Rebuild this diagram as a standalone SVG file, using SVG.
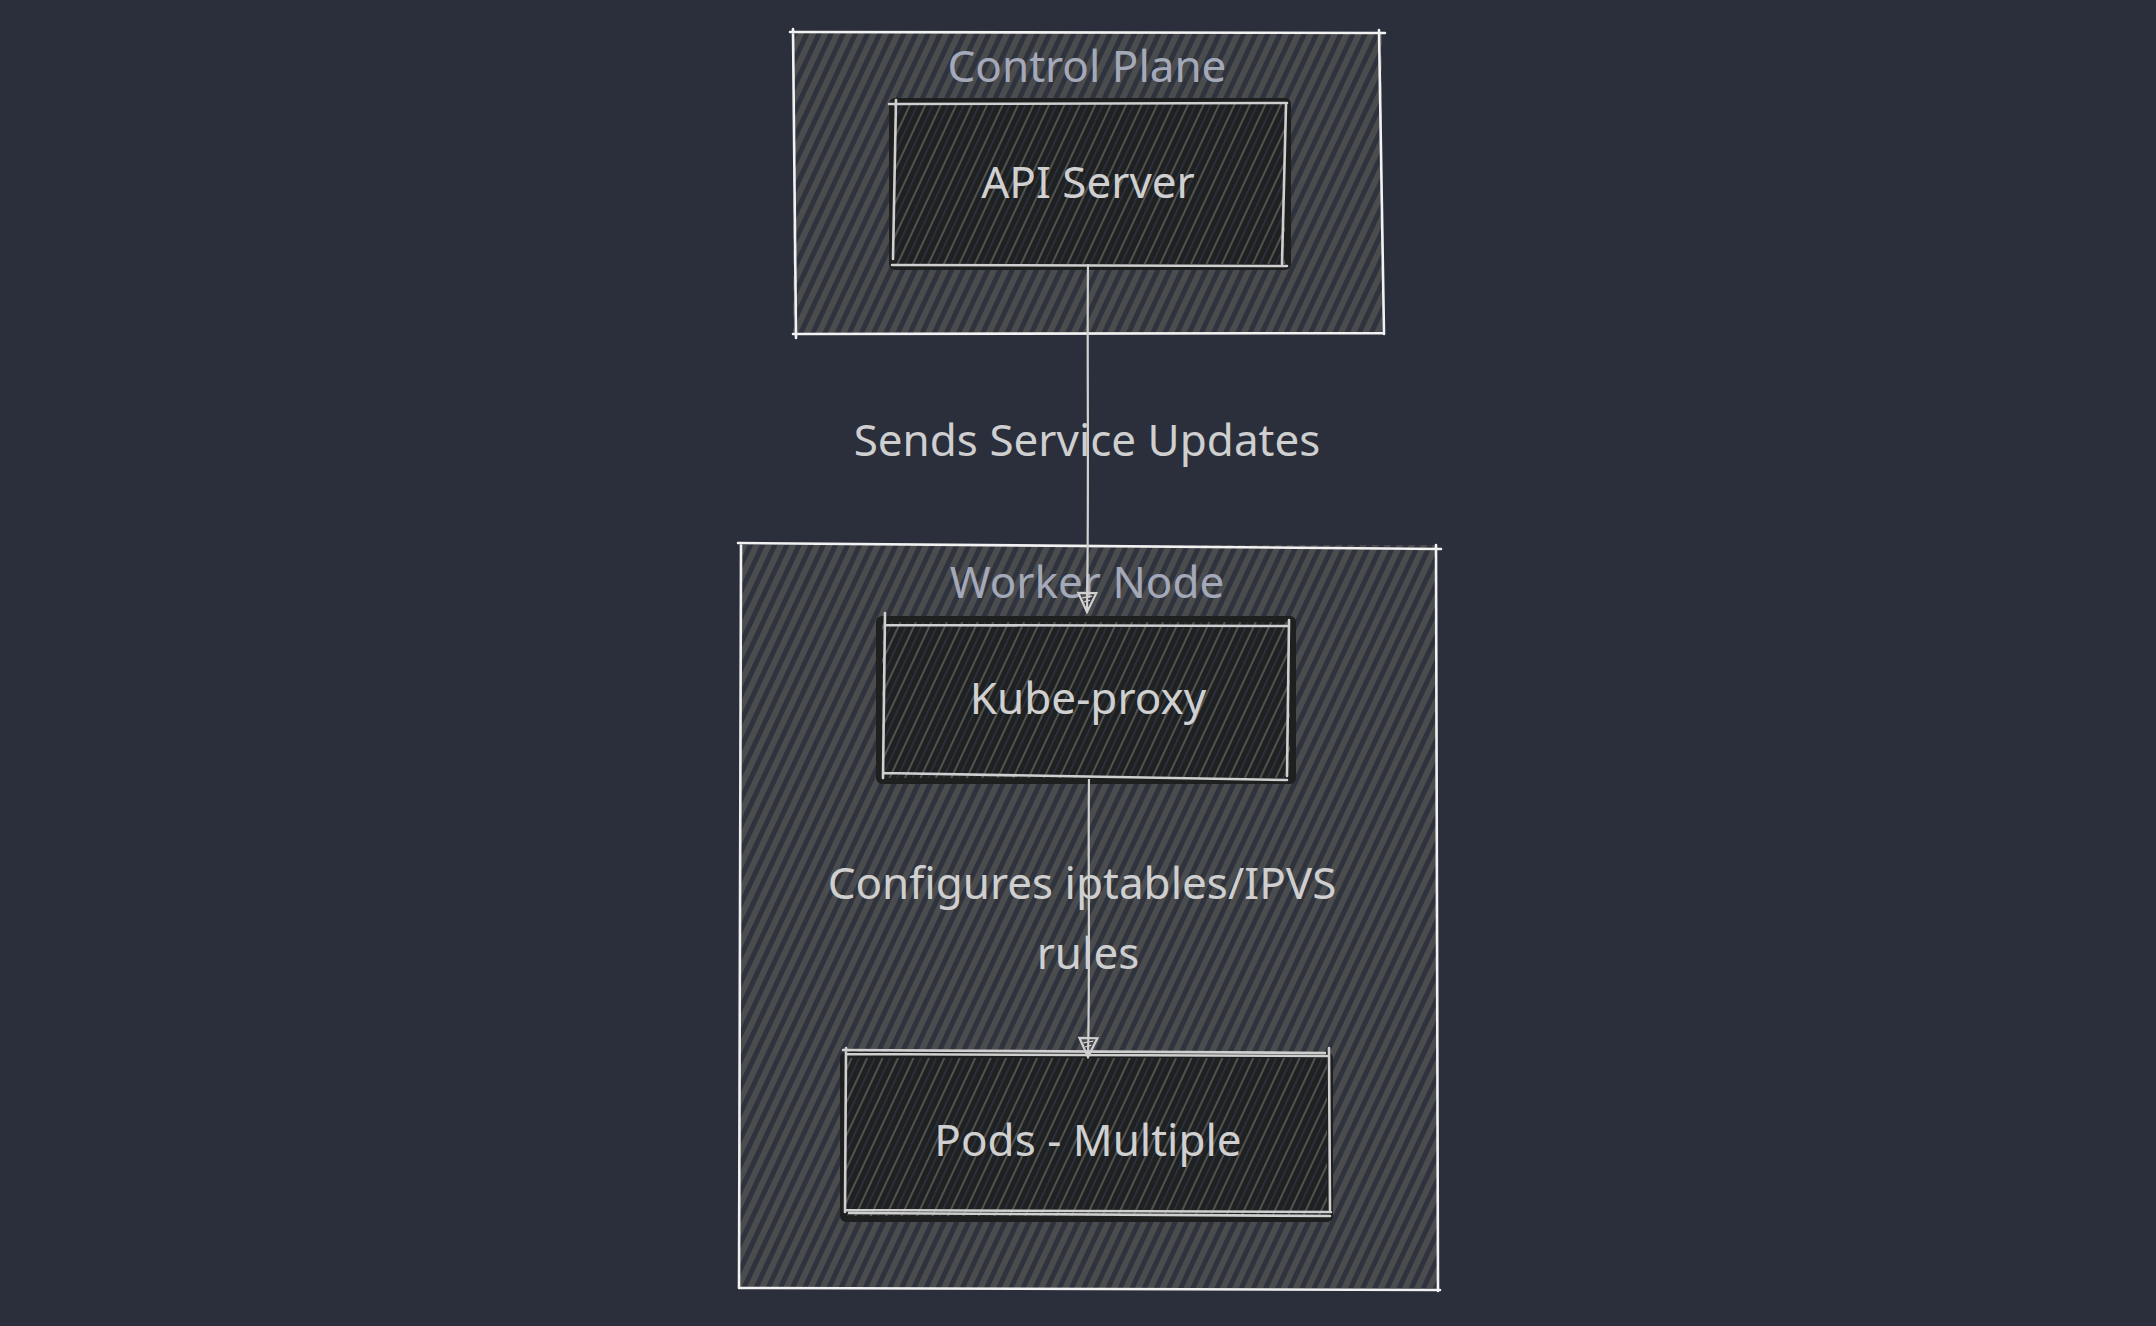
<svg xmlns="http://www.w3.org/2000/svg" width="2156" height="1326" viewBox="0 0 2156 1326">
  <defs>
    <pattern id="hatchCluster" patternUnits="userSpaceOnUse" width="11" height="11" patternTransform="rotate(25)">
      <rect width="11" height="11" fill="#2f333e"/>
      <rect x="0" y="0" width="6" height="11" fill="#4b4c4d"/>
    </pattern>
    <pattern id="hatchNode" patternUnits="userSpaceOnUse" width="14" height="14" patternTransform="rotate(25)">
      <rect width="14" height="14" fill="#1f2121"/>
      <rect x="0" y="0" width="2" height="14" fill="#505153"/>
      <rect x="7" y="0" width="1.5" height="14" fill="#2d3344"/>
    </pattern>
    <marker id="arrow" viewBox="0 0 24 24" refX="22" refY="12" markerWidth="24" markerHeight="24" markerUnits="userSpaceOnUse" orient="auto">
      <path d="M3,3 L22,12 L3,21 Z" fill="none" stroke="#d0d0d0" stroke-width="2.2"/>
      <path d="M6,7 L8,17 M10,9 L12,15" fill="none" stroke="#d0d0d0" stroke-width="1.4"/>
    </marker>
    <style>
      .cluster-fill { fill: url(#hatchCluster); }
      .cluster-stroke { fill: none; stroke: #f2f2f2; stroke-width: 2.6; stroke-linecap: round; }
      .node-shadow { fill: #1e1f1f; stroke: #1e1f1f; stroke-width: 12; stroke-linejoin: round; }
      .node-fill { fill: url(#hatchNode); }
      .node-stroke { fill: none; stroke: #cfcfcf; stroke-width: 2.6; stroke-linecap: round; }
      .cluster-label { font-family: "Noto Sans", "DejaVu Sans", sans-serif; font-size: 44px; fill: #a4a9b9; text-anchor: middle; }
      .node-label { font-family: "Noto Sans", "DejaVu Sans", sans-serif; font-size: 44px; fill: #d0d0d0; text-anchor: middle; }
      .edge-label { font-family: "Noto Sans", "DejaVu Sans", sans-serif; font-size: 44px; fill: #cfcfcf; text-anchor: middle; }
      .edge { fill: none; stroke: #d0d0d0; stroke-width: 2.2; }
    </style>
  </defs>

  <rect x="0" y="0" width="2156" height="1326" fill="#2b2f3b"/>

  <g id="cluster-control-plane">
    <rect class="cluster-fill" x="793" y="32" width="589" height="302"/>
    <path class="cluster-stroke" d="M790,32 L1385,33 M793,29 L796,338 M1379,30 L1384,334 M793,334 L1383,333"/>
    <text class="cluster-label" x="1087" y="82">Control Plane</text>
  </g>

  <g id="cluster-worker-node">
    <rect class="cluster-fill" x="740" y="545" width="697" height="743"/>
    <path class="cluster-stroke" d="M738,543 L1441,549 M741,545 L739,1288 M1436,545 L1438,1291 M740,1288 L1440,1290"/>
    <text class="cluster-label" x="1087" y="598">Worker Node</text>
  </g>

  <g id="node-api-server">
    <rect class="node-shadow" x="895" y="104" width="390" height="160"/>
    <rect class="node-fill" x="894" y="104" width="391" height="160"/>
    <path class="node-stroke" d="M889,104 L1287,103 M896,100 L893,259 M1286,105 L1282,264 M892,265 L1287,266"/>
    <text class="node-label" x="1088" y="198">API Server</text>
  </g>

  <g id="node-kube-proxy">
    <rect class="node-shadow" x="882" y="622" width="408" height="156"/>
    <rect class="node-fill" x="882" y="622" width="408" height="156"/>
    <path class="node-stroke" d="M885,625 L1289,626 M885,613 L883,778 M1289,620 L1287,776 M883,773 L1287,780"/>
    <text class="node-label" x="1088" y="714">Kube-proxy</text>
  </g>

  <g id="node-pods">
    <rect class="node-shadow" x="846" y="1058" width="481" height="158"/>
    <rect class="node-fill" x="846" y="1058" width="481" height="158"/>
    <path class="node-stroke" d="M843,1050 L1325,1053 M846,1054 L1327,1056 M846,1048 L845,1212 M1329,1048 L1330,1210 M846,1210 L1331,1212 M849,1213 L1330,1216"/>
    <text class="node-label" x="1088" y="1156">Pods - Multiple</text>
  </g>

  <g id="edges">
    <path class="edge" d="M1088,264 C1087,360 1089,480 1087,612" marker-end="url(#arrow)"/>
    <path class="edge" d="M1089,779 C1088,860 1090,960 1088,1057" marker-end="url(#arrow)"/>
    <text class="edge-label" x="1087" y="456">Sends Service Updates</text>
    <text class="edge-label" x="1082" y="899">Configures iptables/IPVS</text>
    <text class="edge-label" x="1088" y="969">rules</text>
  </g>
</svg>
